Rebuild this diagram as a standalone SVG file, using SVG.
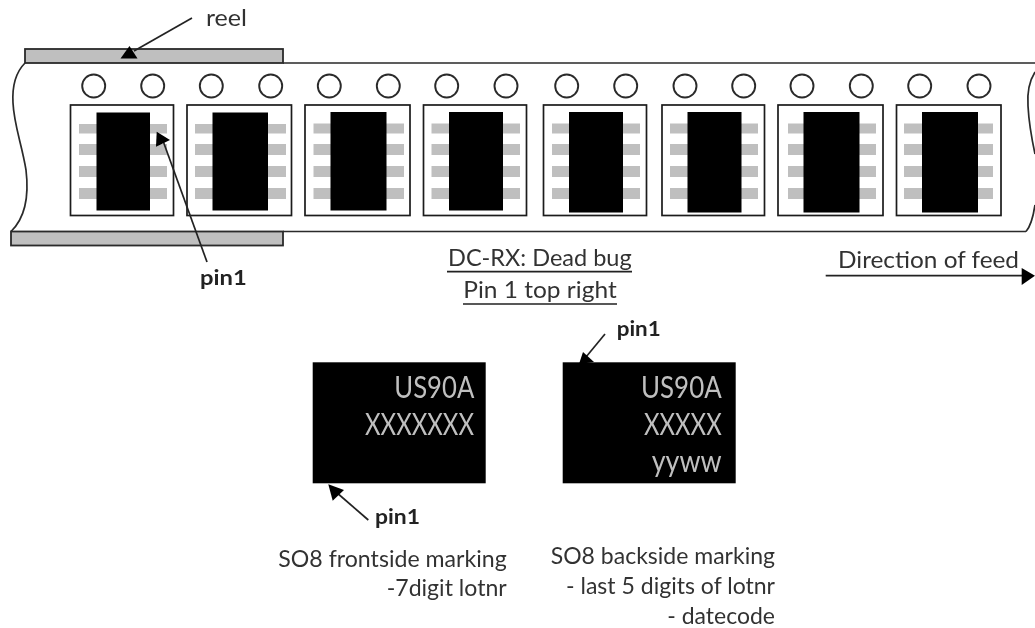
<svg xmlns="http://www.w3.org/2000/svg" width="1035" height="628" viewBox="0 0 1035 628">
<defs>
<style>
text{font-family:Lato,"Open Sans","Liberation Sans",sans-serif;fill:#333;font-size:22.5px}
.b{font-weight:700;fill:#222;font-size:20.5px}
.m{fill:#bfbfbf;font-size:30px}
.reel{fill:#bfbfbf;stroke:#2a2a2a;stroke-width:1.8}
.hole{fill:#fff;stroke:#2a2a2a;stroke-width:1.9}
.frame{fill:#fff;stroke:#1a1a1a;stroke-width:1.7}
.pad{fill:#bfbfbf}
.chip{fill:#000}
.edge{fill:none;stroke:#2a2a2a;stroke-width:1.7}
.ln{fill:none;stroke:#222;stroke-width:1.7}
.head{fill:#000}
</style>
<filter id="soft" x="-2%" y="-2%" width="104%" height="104%"><feGaussianBlur stdDeviation="0.6"/></filter>
</defs>
<rect width="1035" height="628" fill="#fff"/>
<g filter="url(#soft)">
<g id="tape">
<path class="edge" d="M283 63H1035M283 231.5H1026"/>
<path class="edge" d="M25 63C16 72 12 85 13 103C14 125 22 145 26 170C29 195 26 217 11 231.5"/>
<path class="edge" d="M1035 72C1030 80 1027 92 1028 106C1029 125 1032 140 1035 154M1035 205C1033 218 1031 226 1026 231.5"/>
<rect class="reel" x="25" y="49" width="258" height="14"/>
<rect class="reel" x="11" y="231.5" width="272" height="14"/>
<circle class="hole" cx="93.7" cy="86" r="11.5"/><circle class="hole" cx="152.7" cy="86" r="11.5"/>
<circle class="hole" cx="211.3" cy="86" r="11.5"/><circle class="hole" cx="270.7" cy="86" r="11.5"/>
<circle class="hole" cx="329.3" cy="86" r="11.5"/><circle class="hole" cx="388.3" cy="86" r="11.5"/>
<circle class="hole" cx="446.7" cy="86" r="11.5"/><circle class="hole" cx="506" cy="86" r="11.5"/>
<circle class="hole" cx="566.7" cy="86" r="11.5"/><circle class="hole" cx="625.7" cy="86" r="11.5"/>
<circle class="hole" cx="685" cy="86" r="11.5"/><circle class="hole" cx="743.7" cy="86" r="11.5"/>
<circle class="hole" cx="802" cy="86" r="11.5"/><circle class="hole" cx="861.3" cy="86" r="11.5"/>
<circle class="hole" cx="919.7" cy="86" r="11.5"/><circle class="hole" cx="979" cy="86" r="11.5"/>
</g>
<g id="part1"><rect class="frame" x="70.5" y="105" width="103" height="110.5"/><path class="pad" d="M79 124H167V133.5H79ZM79 144H167V155H79ZM79 166H167V177H79ZM79 188H167V199H79Z"/><rect class="chip" x="96.5" y="112.5" width="53.5" height="98"/></g>
<g id="part2"><rect class="frame" x="187" y="105" width="104.5" height="110.5"/><path class="pad" d="M195 124H286V133.5H195ZM195 144H286V155H195ZM195 166H286V177H195ZM195 188H286V199H195Z"/><rect class="chip" x="212.5" y="112.5" width="55.5" height="98"/></g>
<g id="part3"><rect class="frame" x="305" y="105" width="105" height="110.5"/><path class="pad" d="M313.5 123.5H404V133.5H313.5ZM313.5 144H404V155H313.5ZM313.5 166H404V177H313.5ZM313.5 188H404V199H313.5Z"/><rect class="chip" x="330.5" y="112" width="56" height="98.5"/></g>
<g id="part4"><rect class="frame" x="423.5" y="105" width="103" height="110.5"/><path class="pad" d="M431.5 123.5H520V133.5H431.5ZM431.5 144H520V155H431.5ZM431.5 166H520V177H431.5ZM431.5 188H520V199H431.5Z"/><rect class="chip" x="449" y="112" width="54" height="98.5"/></g>
<g id="part5"><rect class="frame" x="543.5" y="105" width="103" height="110.5"/><path class="pad" d="M552 123.5H640V133.5H552ZM552 144H640V155H552ZM552 166H640V177H552ZM552 188H640V199H552Z"/><rect class="chip" x="569" y="112" width="54" height="100.5"/></g>
<g id="part6"><rect class="frame" x="662" y="105" width="102.5" height="110.5"/><path class="pad" d="M670 123.5H758V133.5H670ZM670 144H758V155H670ZM670 166H758V177H670ZM670 188H758V199H670Z"/><rect class="chip" x="687.5" y="112" width="54" height="100.5"/></g>
<g id="part7"><rect class="frame" x="778" y="105" width="105" height="110.5"/><path class="pad" d="M788 123.5H876V133.5H788ZM788 144H876V155H788ZM788 166H876V177H788ZM788 188H876V199H788Z"/><rect class="chip" x="803.5" y="112" width="56" height="100.5"/></g>
<g id="part8"><rect class="frame" x="896.5" y="105" width="104.5" height="110.5"/><path class="pad" d="M904 123.5H993V133.5H904ZM904 144H993V155H904ZM904 166H993V177H904ZM904 188H993V199H904Z"/><rect class="chip" x="922" y="112" width="56" height="100.5"/></g>
<g id="marking-front"><rect class="chip" x="312.7" y="362.3" width="173" height="121"/>
<text class="m" x="394.3" y="398.3" textLength="80" lengthAdjust="spacingAndGlyphs">US90A</text>
<text class="m" x="365" y="435" textLength="109" lengthAdjust="spacingAndGlyphs">XXXXXXX</text></g>
<g id="marking-back"><rect class="chip" x="562.7" y="362.3" width="173" height="121"/>
<text class="m" x="641" y="398.3" textLength="80.7" lengthAdjust="spacingAndGlyphs">US90A</text>
<text class="m" x="644" y="435" textLength="77.7" lengthAdjust="spacingAndGlyphs">XXXXX</text>
<text class="m" x="651.7" y="471.7" textLength="70" lengthAdjust="spacingAndGlyphs">yyww</text></g>
<g id="connectors">
<path class="ln" d="M192 18L134 51"/><polygon class="head" points="129.5,46 120.5,58.5 137.5,58.5"/>
<path class="ln" d="M207 262L162 138"/><polygon class="head" points="156.7,131.7 156,146.7 170,140"/>
<path class="ln" d="M368.3 520L336 492"/><polygon class="head" points="328.3,484.3 332.7,500.7 344,490"/>
<path class="ln" d="M605 334L586 357"/><polygon class="head" points="579,364 583,352 594,362"/>
<path class="ln" d="M825.7 275.7H1025"/><polygon class="head" points="1035,275.7 1021.7,268 1021.7,285"/>
</g>
<g id="labels">
<text x="206" y="26" textLength="41" lengthAdjust="spacingAndGlyphs">reel</text>
<text class="b" x="200" y="285" textLength="46.7" lengthAdjust="spacingAndGlyphs">pin1</text>
<text class="b" x="616.7" y="336" textLength="44" lengthAdjust="spacingAndGlyphs">pin1</text>
<text class="b" x="375" y="524.3" textLength="45" lengthAdjust="spacingAndGlyphs">pin1</text>
<text x="448" y="265.7" textLength="183.7" lengthAdjust="spacingAndGlyphs">DC-RX: Dead bug</text>
<path class="ln" d="M447 271.7H632M463 304H617"/>
<text x="463.3" y="298" textLength="153.4" lengthAdjust="spacingAndGlyphs">Pin 1 top right</text>
<text x="838" y="267.7" textLength="181" lengthAdjust="spacingAndGlyphs">Direction of feed</text>
<text x="278.3" y="566.7" textLength="228.4" lengthAdjust="spacingAndGlyphs">SO8 frontside marking</text>
<text x="386.7" y="596" textLength="120" lengthAdjust="spacingAndGlyphs">-7digit lotnr</text>
<text x="550.7" y="564" textLength="224.3" lengthAdjust="spacingAndGlyphs">SO8 backside marking</text>
<text x="566" y="594" textLength="209" lengthAdjust="spacingAndGlyphs">- last 5 digits of lotnr</text>
<text x="667.3" y="624" textLength="107.7" lengthAdjust="spacingAndGlyphs">- datecode</text>
</g>
</g>
</svg>
